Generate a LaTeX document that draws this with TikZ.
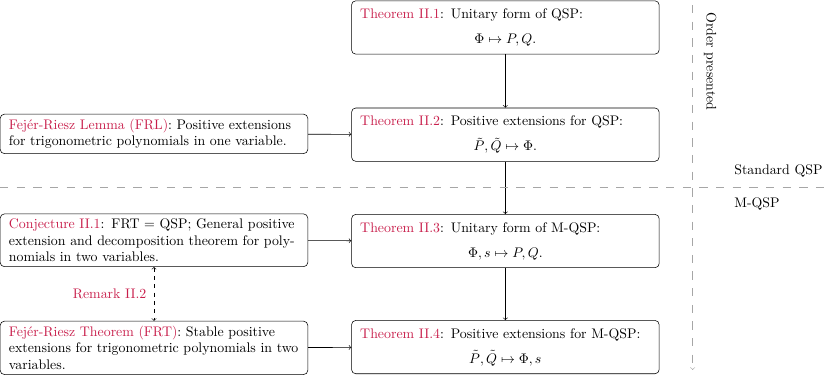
\documentclass[tikz,border=0pt]{standalone}
\usepackage{amsmath,amssymb}
\usepackage{xcolor}
\usetikzlibrary{arrows,calc}
\definecolor{refred}{RGB}{200,30,75}

\begin{document}
\begin{tikzpicture}[>=to,x=0.98cm,y=0.98cm,
    result/.style={draw,rounded corners=3pt,text width=7.35cm,inner xsep=0.22cm,
      minimum height=1.35cm,align=left},
    source/.style={draw,rounded corners=3pt,text width=7.35cm,inner xsep=0.22cm,
      inner ysep=0.12cm,align=left},
    sepline/.style={gray!70,dash pattern=on 6pt off 6pt}]
    \useasboundingbox (0,0) rectangle (21.45,-9.79);
    % --- the four theorems (right column)
    \node[result] (thmA) at (13.06,-0.71) {\textcolor{refred}{Theorem II.1}: Unitary form of QSP:\par\vspace{6pt}\centering$\Phi\mapsto P,Q.$\par};
    \node[result] (thmB) at (13.06,-3.48) {\textcolor{refred}{Theorem II.2}: Positive extensions for QSP:\par\vspace{6pt}\centering$\tilde{P},\tilde{Q}\mapsto\Phi.$\par};
    \node[result] (thmC) at (13.06,-6.23) {\textcolor{refred}{Theorem II.3}: Unitary form of M-QSP:\par\vspace{6pt}\centering$\Phi,s\mapsto P,Q.$\par};
    \node[result] (thmD) at (13.06,-8.97) {\textcolor{refred}{Theorem II.4}: Positive extensions for M-QSP:\par\vspace{6pt}\centering$\tilde{P},\tilde{Q}\mapsto\Phi,s$\par};
    % --- the inputs (left column)
    \node[source] (frl) at (3.98,-3.46) {\textcolor{refred}{Fejér-Riesz Lemma (FRL)}: Positive extensions for trigonometric polynomials in one variable.};
    \node[source] (conj) at (3.98,-6.21) {\textcolor{refred}{Conjecture II.1}: FRT = QSP; General positive extension and decomposition theorem for polynomials in two variables.};
    \node[source] (frt) at (3.98,-8.99) {\textcolor{refred}{Fejér-Riesz Theorem (FRT)}: Stable positive extensions for trigonometric polynomials in two variables.};
    \foreach \a/\b in {thmA/thmB,thmB/thmC,thmC/thmD,frl/thmB,conj/thmC,frt/thmD}{
      \draw[->] (\a) -- (\b);
    }
    \draw[<->,dashed] (conj.south) -- (frt.north)
      node[midway,left=2pt,text=refred] (rmk) {Remark II.2};
    % --- order of presentation
    \coordinate (ordtop) at (17.9,-0.13);
    \coordinate (ordbot) at (17.9,-9.56);
    \draw[sepline,->] (ordtop) -- (ordbot);
    \node[rotate=-90,anchor=west] (ord) at (18.35,-0.2) {Order presented};
    \coordinate (sepL) at (0,-4.83);
    \coordinate (sepR) at (21.45,-4.83);
    \draw[sepline] (sepL) -- (sepR);
    \node[anchor=west] (std) at (18.85,-4.42) {Standard QSP};
    \node[anchor=west] (mqsp) at (18.85,-5.27) {M-QSP};
  \end{tikzpicture}
\end{document}
